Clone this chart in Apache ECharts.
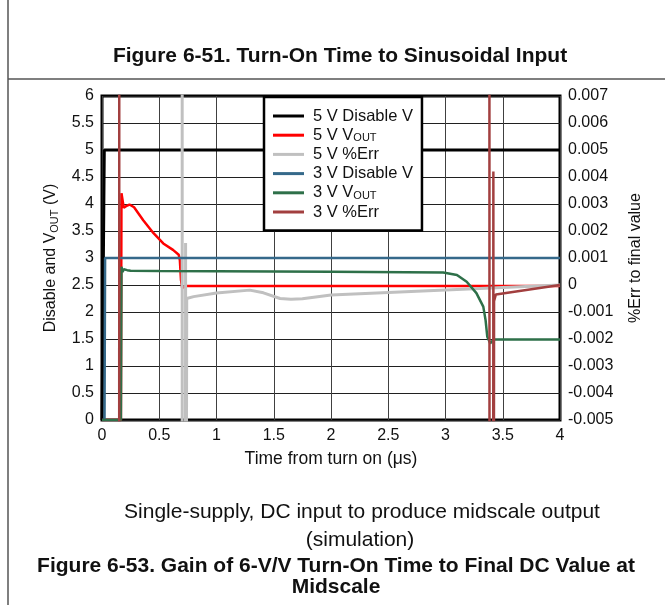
<!DOCTYPE html>
<html>
<head>
<meta charset="utf-8">
<script src="https://cdn.jsdelivr.net/npm/echarts@6/dist/echarts.min.js"></script>
<style>
  html, body { margin: 0; padding: 0; background: #fff; }
  #chart { width: 665px; height: 605px; }
</style>
</head>
<body>
<div id="chart"></div>
<script>
// Turn-on transient: disable pin, output voltage and % error for 5 V and 3 V supplies.
// Time in microseconds; voltages in V (left axis); error as fraction (right axis).
// Error values of +/-0.02 sit beyond the right axis range and are clipped by the grid.

const seriesNames = ['5 V Disable V', '5 V VOUT', '5 V %Err', '3 V Disable V', '3 V VOUT', '3 V %Err'];

const disable5V = [[0, 0], [0.015, 0], [0.02, 5], [4, 5]];

const vout5V = [
  [0, 0], [0.165, 0], [0.17, 4.2], [0.19, 3.93], [0.21, 3.96], [0.24, 3.99],
  [0.28, 3.94], [0.36, 3.70], [0.45, 3.46], [0.535, 3.27], [0.62, 3.15],
  [0.67, 3.06], [0.68, 2.96], [0.69, 2.59], [0.70, 2.45], [0.74, 2.48], [4, 2.48]
];

const err5V = [
  [0, 0.02], [0.70, 0.02], [0.701, -0.02], [0.728, -0.02], [0.73, 0.00156],
  [0.732, -0.02], [0.74, -0.0005], [0.8, -0.00043], [1.0, -0.0003], [1.29, -0.00019],
  [1.41, -0.00029], [1.555, -0.0005], [1.65, -0.00053], [1.75, -0.00051],
  [2.0, -0.00037], [3.4, -0.00011], [4, 0]
];

const disable3V = [[0, 0], [0.022, 0], [0.027, 3], [4, 3]];

const vout3V = [
  [0, 0], [0.165, 0], [0.17, 2.84], [0.18, 2.74], [0.19, 2.79], [0.2, 2.76],
  [0.22, 2.775], [0.25, 2.765], [0.5, 2.76], [1.0, 2.755], [2.0, 2.745],
  [2.98, 2.73], [3.1, 2.685], [3.185, 2.56], [3.27, 2.35], [3.33, 2.10],
  [3.35, 1.85], [3.365, 1.54], [3.39, 1.42], [3.42, 1.49], [4, 1.49]
];

const err3V = [
  [0, -0.02], [0.15, -0.02], [0.151, 0.02], [3.383, 0.02], [3.385, -0.02],
  [3.416, -0.02], [3.418, 0.0042], [3.42, -0.02], [3.424, -0.0006],
  [3.44, -0.00035], [4, 0]
];

const leftTicks = { min: 0, max: 6, interval: 0.5 };
const rightTicks = { min: -0.005, max: 0.007, interval: 0.001 };
const timeTicks = { min: 0, max: 4, interval: 0.5 };

const colors = ['#000000', '#ff0000', '#c0c0c0', '#35698a', '#2e7049', '#a23f3f'];
const widths = [3, 2.5, 3, 2.5, 2.5, 2.5];
const axisIndex = [0, 0, 1, 0, 0, 1];
const dataSets = [disable5V, vout5V, err5V, disable3V, vout3V, err3V];

const FONT = 'Liberation Sans, Arial, sans-serif';
const subRich = (lh) => ({
  sub: { fontSize: 11, fontFamily: FONT, verticalAlign: 'bottom', lineHeight: lh, padding: [5, 0, 0, 0], color: '#111' }
});

const chart = echarts.init(document.getElementById('chart'), null, { renderer: 'canvas' });

chart.setOption({
  animation: false,
  backgroundColor: '#fff',
  grid: {
    left: 102, right: 105, top: 96, bottom: 185,
    show: true, borderColor: '#000', borderWidth: 3, backgroundColor: 'transparent'
  },
  legend: {
    data: seriesNames,
    orient: 'vertical',
    left: 264, top: 97,
    backgroundColor: '#fff',
    borderColor: '#000', borderWidth: 2.5,
    padding: [10.5, 9, 10, 9],
    itemWidth: 31, itemHeight: 3, itemGap: 2.2,
    icon: 'rect',
    textStyle: {
      fontFamily: FONT, fontSize: 16.5, color: '#111', lineHeight: 17,
      padding: [0, 0, 0, 4],
      rich: subRich(17)
    },
    formatter: name => name.replace('VOUT', 'V{sub|OUT}')
  },
  xAxis: {
    type: 'value',
    min: timeTicks.min, max: timeTicks.max, interval: timeTicks.interval,
    name: 'Time from turn on (μs)',
    nameLocation: 'middle', nameGap: 30,
    nameTextStyle: { fontFamily: FONT, fontSize: 17.5, color: '#111' },
    axisLine: { show: false },
    axisTick: { show: false },
    axisLabel: { fontFamily: FONT, fontSize: 16, color: '#111', margin: 8 },
    splitLine: { show: true, lineStyle: { color: '#404040', width: 1 } }
  },
  yAxis: [
    {
      type: 'value', position: 'left',
      min: leftTicks.min, max: leftTicks.max, interval: leftTicks.interval,
      name: 'Disable and V{sub|OUT} (V)',
      nameLocation: 'middle', nameGap: 42, nameRotate: 90,
      nameTextStyle: { fontFamily: FONT, fontSize: 16, color: '#111', lineHeight: 18, rich: subRich(18) },
      axisLine: { show: false },
      axisTick: { show: false },
      axisLabel: { fontFamily: FONT, fontSize: 16, color: '#111', margin: 8 },
      splitLine: { show: true, lineStyle: { color: '#202020', width: 1 } }
    },
    {
      type: 'value', position: 'right',
      min: rightTicks.min, max: rightTicks.max, interval: rightTicks.interval,
      name: '%Err to final value',
      nameLocation: 'middle', nameGap: 68, nameRotate: 90,
      nameTextStyle: { fontFamily: FONT, fontSize: 16, color: '#111' },
      axisLine: { show: false },
      axisTick: { show: false },
      axisLabel: {
        fontFamily: FONT, fontSize: 16, color: '#111', margin: 8,
        formatter: v => String(parseFloat(v.toFixed(3)))
      },
      splitLine: { show: false }
    }
  ],
  series: seriesNames.map((name, i) => ({
    name,
    type: 'line',
    yAxisIndex: axisIndex[i],
    data: dataSets[i],
    showSymbol: false,
    symbol: 'none',
    clip: true,
    color: colors[i],
    lineStyle: { color: colors[i], width: widths[i] },
    z: 2 + i
  })),
  graphic: [
    { type: 'line', shape: { x1: 8, y1: 0, x2: 8, y2: 605 }, style: { stroke: '#555', lineWidth: 1.5 } },
    { type: 'line', shape: { x1: 8, y1: 79, x2: 665, y2: 79 }, style: { stroke: '#555', lineWidth: 1.5 } },
    { type: 'text', x: 340, y: 56, style: { text: 'Figure 6-51. Turn-On Time to Sinusoidal Input', font: 'bold 21px ' + FONT, fill: '#111', align: 'center', verticalAlign: 'middle' } },
    { type: 'text', x: 362, y: 512, style: { text: 'Single-supply, DC input to produce midscale output', font: '21px ' + FONT, fill: '#111', align: 'center', verticalAlign: 'middle' } },
    { type: 'text', x: 360, y: 540, style: { text: '(simulation)', font: '21px ' + FONT, fill: '#111', align: 'center', verticalAlign: 'middle' } },
    { type: 'text', x: 336, y: 566, style: { text: 'Figure 6-53. Gain of 6-V/V Turn-On Time to Final DC Value at', font: 'bold 21px ' + FONT, fill: '#111', align: 'center', verticalAlign: 'middle' } },
    { type: 'text', x: 336, y: 587, style: { text: 'Midscale', font: 'bold 21px ' + FONT, fill: '#111', align: 'center', verticalAlign: 'middle' } }
  ]
});
</script>
</body>
</html>
